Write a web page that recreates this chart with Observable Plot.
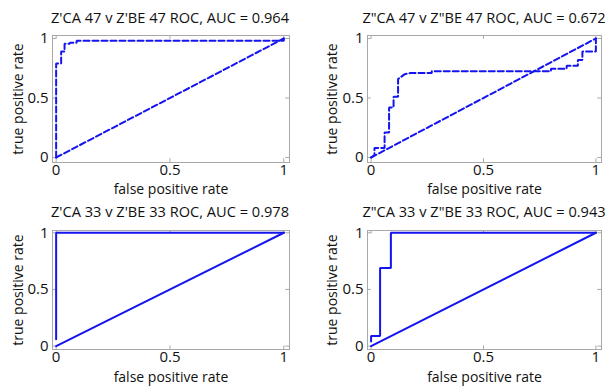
<!DOCTYPE html>
<html><head><meta charset="utf-8">
<script src="https://cdn.jsdelivr.net/npm/d3@7"></script>
<script src="https://cdn.jsdelivr.net/npm/@observablehq/plot@0.6"></script>
<style>
html,body{margin:0;padding:0;background:#fff;}
#wrap{position:relative;width:608px;height:386px;overflow:hidden;font-family:"Open Sans",sans-serif;}
.panel{position:absolute;}
.title{position:absolute;font-size:14.6px;line-height:18px;color:#111;white-space:nowrap;transform:translateX(-50%);}
.ylab{position:absolute;font-size:14px;line-height:18px;color:#111;white-space:nowrap;transform:translate(-50%,-50%) rotate(-90deg);}
svg{background:transparent !important;overflow:visible;}
</style></head>
<body><div id="wrap"></div>
<script>
const titles = [
  "Z'CA 47 v Z'BE 47 ROC, AUC = 0.964",
  "Z\"CA 47 v Z\"BE 47 ROC, AUC = 0.672",
  "Z'CA 33 v Z'BE 33 ROC, AUC = 0.978",
  "Z\"CA 33 v Z\"BE 33 ROC, AUC = 0.943"
];
const tickValues = [0, 0.5, 1];
const tickLabels = ["0", "0.5", "1"];
const xLabel = "false positive rate";
const yLabel = "true positive rate";

// ROC curves
const fpr1 = [0,0,0.022,0.022,0.037,0.037,0.06,0.06,0.09,0.09,1,1];
const tpr1 = [0,0.79,0.79,0.89,0.89,0.955,0.955,0.965,0.965,0.98,0.98,1];
const fpr2 = [0,0.015,0.015,0.06,0.06,0.08,0.08,0.10,0.10,0.12,0.12,0.15,0.175,0.27,0.27,0.80,0.80,0.87,0.87,0.92,0.92,0.94,0.94,1,1];
const tpr2 = [0,0.02,0.08,0.08,0.21,0.21,0.42,0.42,0.51,0.51,0.66,0.70,0.71,0.71,0.725,0.725,0.745,0.745,0.77,0.77,0.82,0.82,0.89,0.89,1];
const fpr3 = [0,0,1];
const tpr3 = [0.06,1,1];
const fpr4 = [0,0,0.04,0.04,0.088,0.088,1];
const tpr4 = [0.04,0.09,0.09,0.69,0.69,1,1];
// chance diagonal
const diagX = [0,1];
const diagY = [0,1];

const panels = [
  {fx: fpr1, ty: tpr1, dash: true, left: 0, top: 0, ml: 52, mr: 15, mt: 35, mb: 31, yd: [-0.042, 1.025], tx: 170, tt: 8, xlo: 27, ylx: 18},
  {fx: fpr2, ty: tpr2, dash: true, left: 304, top: 0, ml: 63, mr: 7, mt: 35, mb: 31, yd: [-0.042, 1.025], tx: 180, tt: 8, xlo: 27, ylx: 28},
  {fx: fpr3, ty: tpr3, dash: false, left: 0, top: 193, ml: 52, mr: 15, mt: 37, mb: 37, yd: [-0.03, 1.02], tx: 170, tt: 9, xlo: 28, ylx: 18},
  {fx: fpr4, ty: tpr4, dash: false, left: 304, top: 193, ml: 63, mr: 7, mt: 37, mb: 37, yd: [-0.03, 1.02], tx: 180, tt: 9, xlo: 28, ylx: 28}
];
const xd = [-0.016, 1.025];
const blue = "#1414f0";
const wrap = document.getElementById("wrap");
const fmt = (d) => tickLabels[tickValues.indexOf(d)];

panels.forEach((p, i) => {
  const curve = p.fx.map((x, j) => ({x, y: p.ty[j]}));
  const diag = diagX.map((x, j) => ({x, y: diagY[j]}));
  const lineOpts = {x: "x", y: "y", stroke: blue, strokeWidth: 2, strokeDasharray: p.dash ? "6,3" : null, strokeLinejoin: "miter"};
  const w = 304, h = 193;
  const yt = (p.yd[1]-p.yd[0]) * 0.03;
  const xt = (xd[1]-xd[0]) * 0.016;
  const chart = Plot.plot({
    width: w, height: h,
    marginLeft: p.ml, marginRight: p.mr, marginTop: p.mt, marginBottom: p.mb,
    style: {fontFamily: "'Open Sans', sans-serif", fontSize: "15px", color: "#111", background: "transparent"},
    x: {domain: xd},
    y: {domain: p.yd},
    marks: [
      Plot.frame({stroke: "#a8a8a8", strokeWidth: 1}),
      Plot.ruleX(tickValues, {y1: p.yd[0], y2: p.yd[0] + yt, stroke: "#a8a8a8"}),
      Plot.ruleX(tickValues, {y1: p.yd[1], y2: p.yd[1] - yt, stroke: "#a8a8a8"}),
      Plot.ruleY(tickValues, {x1: xd[0], x2: xd[0] + xt, stroke: "#a8a8a8"}),
      Plot.ruleY(tickValues, {x1: xd[1], x2: xd[1] - xt, stroke: "#a8a8a8"}),
      Plot.axisX(tickValues, {tickSize: 0, tickPadding: 2, tickFormat: fmt, label: null, fontSize: 15}),
      Plot.axisY(tickValues, {tickSize: 0, tickPadding: 4, tickFormat: fmt, label: null, fontSize: 15}),
      Plot.text([xLabel], {text: (d) => d, frameAnchor: "bottom", dy: p.xlo, lineAnchor: "middle", fontSize: 14, fill: "#111"}),
      Plot.line(diag, lineOpts),
      Plot.line(curve, lineOpts)
    ]
  });
  const div = document.createElement("div");
  div.className = "panel";
  div.style.left = p.left + "px";
  div.style.top = p.top + "px";
  div.appendChild(chart);
  wrap.appendChild(div);
  const t = document.createElement("div");
  t.className = "title";
  t.textContent = titles[i];
  t.style.left = (p.left + p.tx) + "px";
  t.style.top = (p.top + p.tt) + "px";
  wrap.appendChild(t);
  const yl = document.createElement("div");
  yl.className = "ylab";
  yl.textContent = yLabel;
  yl.style.left = (p.left + p.ylx) + "px";
  yl.style.top = (p.top + p.mt + (h - p.mt - p.mb) / 2) + "px";
  wrap.appendChild(yl);
});
</script></body></html>
